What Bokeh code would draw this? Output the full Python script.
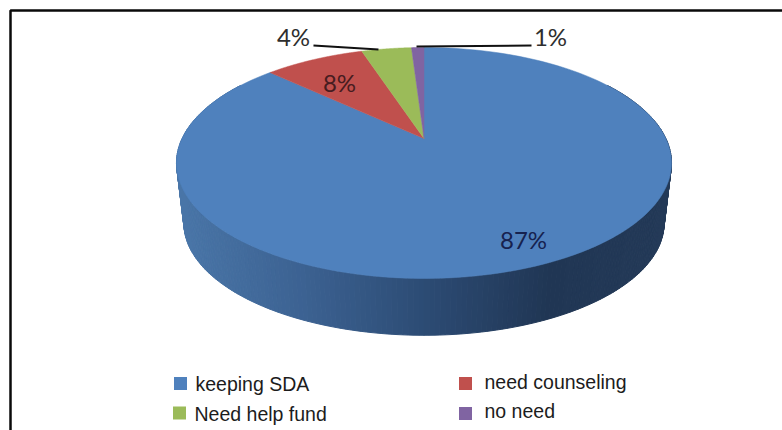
import numpy as np
from bokeh.core.properties import value
from bokeh.embed import file_html
from bokeh.models import Range1d
from bokeh.plotting import figure
from bokeh.resources import INLINE

# Survey answers, listed clockwise from twelve o'clock.
categories = ["keeping SDA", "need counseling", "Need help fund", "no need"]
shares = [87, 8, 4, 1]
share_labels = ["87%", "8%", "4%", "1%"]
colors = ["#4F81BD", "#C0504D", "#9BBB59", "#8064A2"]

W, H = 782, 430

# Perspective disc: apex on screen, half-width terms and foreshortening.
APEX_X, APEX_Y = 423.5, 138.0
DISC_A, DISC_B, DISC_K = 241.9, 110.3, 0.212
# Lower rim of the slab, a slightly smaller copy of the top rim.
RIM_SCALE, RIM_APEX_Y = 0.97, 199.0


def rim(turns, scale=1.0, apex_y=APEX_Y):
    """Project points on the unit circle (turns clockwise from the top)."""
    angle = np.asarray(turns) * 2 * np.pi
    u, v = np.sin(angle), np.cos(angle)
    w = 1 + DISC_K * v
    return APEX_X + scale * DISC_A * u / w, apex_y - scale * DISC_B * v / w


p = figure(width=W, height=H, output_backend="svg", toolbar_location=None,
           x_range=Range1d(0, W), y_range=Range1d(H, 0),
           min_border=0, outline_line_color=None)
p.axis.visible = False
p.grid.visible = False
p.background_fill_color = "white"
p.border_fill_color = "white"

# Frame around the chart; it runs off the right and bottom of the page.
p.line([10, 10, W + 5], [H + 5, 10, 10], line_color="#0a0a0a", line_width=2.5)

# Side wall as narrow strips, shaded from mid blue on the left to deep navy.
shade_x = [176, 300, 424, 550, 671]
shade_r = [74, 60, 44, 32, 36]
shade_g = [118, 98, 75, 54, 58]
shade_b = [168, 146, 116, 84, 88]
steps = np.linspace(0.16, 0.84, 241)
strip_xs, strip_ys, strip_colors = [], [], []
for t0, t1 in zip(steps[:-1], steps[1:]):
    top_x, top_y = rim([t0, t1])
    low_x, low_y = rim([t1, t0], RIM_SCALE, RIM_APEX_Y)
    strip_xs.append(np.r_[top_x, low_x])
    strip_ys.append(np.r_[top_y, low_y])
    mid = top_x.mean()
    strip_colors.append("#%02x%02x%02x" % (
        round(np.interp(mid, shade_x, shade_r)),
        round(np.interp(mid, shade_x, shade_g)),
        round(np.interp(mid, shade_x, shade_b))))
p.patches(strip_xs, strip_ys, fill_color=strip_colors, line_color=strip_colors,
          line_width=1)

# Top face, one wedge per answer.
edges = np.cumsum([0] + shares) / sum(shares)
for start, stop, color in zip(edges[:-1], edges[1:], colors):
    arc_x, arc_y = rim(np.linspace(start, stop, 181))
    p.patch(np.r_[APEX_X, arc_x], np.r_[APEX_Y, arc_y],
            fill_color=color, line_color=color, line_width=0.5)

# Percentage labels and the two leader lines.
label_x = [523, 339, 293, 550]
label_y = [238.5, 82, 36, 36]
label_colors = ["#16224f", "#471c20", "#2e2e2e", "#2e2e2e"]
p.text(label_x, label_y, text=share_labels, text_color=label_colors,
       text_font=value("Lato"), text_font_size="24px",
       text_align="center", text_baseline="middle")
p.line([313, 378], [45, 49], line_color="#111111", line_width=2)
p.line([416, 531], [46, 45], line_color="#111111", line_width=2)

# Legend in two columns.
swatch_x = [180, 465, 179, 465]
swatch_y = [383, 383, 412.5, 413]
p.rect(swatch_x, swatch_y, width=13, height=13, fill_color=colors,
       line_color=None)
legend_x = [195, 484, 194, 484]
legend_y = [383, 381, 413, 410]
p.text(legend_x, legend_y, text=categories, text_color="#1c1c1c",
       text_font=value("Liberation Sans"), text_font_size="19.5px",
       text_align="left", text_baseline="middle")

open("out.html", "w").write(file_html(p, INLINE))
